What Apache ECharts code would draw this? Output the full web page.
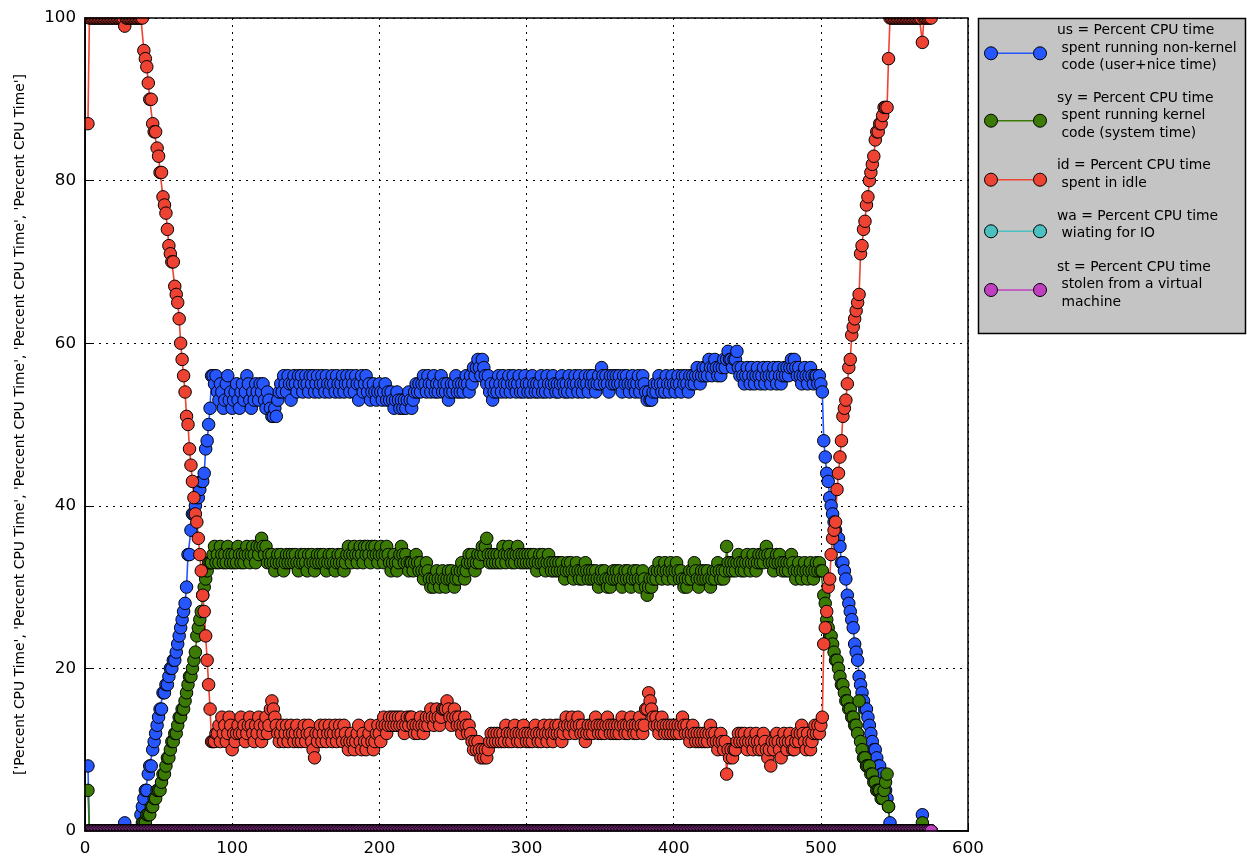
<!DOCTYPE html>
<html><head><meta charset="utf-8">
<script src="https://cdn.jsdelivr.net/npm/echarts@6/dist/echarts.min.js"></script>
<style>html,body{margin:0;padding:0;background:#fff;}#c{width:1247px;height:861px;}</style>
</head><body><div id="c"></div>
<script>
// sample index -> x value starts here (one sample per x unit)
const xStart = 2;

const usValues = [
8,0,0,0,0,0,0,0,0,0,0,0,0,0,0,0,0,0,0,0,
0,0,0,0,0,1,0,0,0,0,0,0,0,0,0,0,2,3,4,5,
5,7,8,8,10,11,12,13,14,15,15,17,17,18,18,19,20,20,21,21,
22,23,24,25,26,27,28,30,34,34,37,39,39,40,41,41,42,43,43,44,
47,48,50,52,56,56,55,56,54,53,55,54,52,53,55,56,53,54,52,53,
54,55,53,52,54,55,53,54,56,55,53,52,54,53,55,54,53,55,54,55,
53,52,54,53,52,51,51,52,51,53,54,55,54,56,55,54,56,55,53,55,
56,55,54,56,55,56,54,55,56,55,54,56,55,56,54,55,56,54,55,56,
55,54,56,55,54,55,56,55,54,56,55,54,55,56,54,55,56,55,54,56,
55,54,56,55,53,55,56,54,55,56,54,55,53,54,55,54,53,54,55,54,
53,54,55,53,54,53,54,53,52,53,54,53,52,53,52,53,52,53,54,53,
52,53,54,55,54,55,54,55,56,55,54,56,55,54,55,56,54,55,54,55,
56,54,55,54,55,53,54,55,54,55,56,54,55,54,55,54,55,56,55,54,
56,55,57,56,57,58,57,56,58,57,56,55,56,54,55,53,54,55,54,56,
55,54,56,55,54,55,56,54,55,56,55,54,55,56,54,55,54,56,55,54,
55,54,56,55,54,55,54,55,56,54,55,54,56,55,54,55,56,55,54,55,
54,55,56,55,54,55,54,56,55,54,55,56,55,54,56,55,54,55,56,55,
54,56,55,56,55,54,55,56,55,57,56,55,56,55,54,56,55,56,55,56,
55,56,55,54,56,55,56,55,54,55,56,55,54,55,56,54,55,56,55,54,
53,54,53,53,54,55,54,55,56,55,54,55,54,56,55,54,55,56,55,54,
55,56,55,54,56,55,56,55,54,56,55,56,55,56,57,56,55,56,57,56,
57,56,58,57,56,57,58,57,56,57,56,57,58,57,58,59,58,58,57,58,
58,59,57,56,57,56,55,56,57,56,55,57,56,55,56,57,56,55,56,57,
55,56,57,56,55,56,57,56,55,57,56,55,56,57,56,57,56,57,58,57,
58,57,56,57,56,55,56,57,56,55,56,57,56,55,56,56,55,56,55,54,
48,46,44,43,41,40,39,38,37,36,36,35,33,33,32,31,29,28,27,26,
25,23,22,21,19,18,17,16,15,15,14,13,12,11,10,10,9,8,8,7,
7,6,5,4,3,1,0,0,0,0,0,0,0,0,0,0,0,0,0,0,
0,0,0,0,0,0,0,2,0,0,0,0,0,0
];

const syValues = [
5,0,0,0,0,0,0,0,0,0,0,0,0,0,0,0,0,0,0,0,
0,0,0,0,0,0,0,0,0,0,0,0,0,0,0,0,0,1,1,1,
2,2,2,3,3,4,4,5,5,5,6,7,7,8,9,9,10,11,11,12,
12,13,14,14,15,15,16,17,18,19,19,20,21,22,24,25,26,27,29,30,
31,32,33,33,33,34,35,33,34,33,35,34,33,34,33,35,34,33,34,33,
34,33,35,34,33,34,33,34,35,34,33,34,35,34,33,35,34,35,36,35,
34,35,33,34,33,34,33,32,33,34,33,34,33,32,33,34,33,34,33,34,
33,34,33,32,33,34,33,34,33,32,34,33,34,33,32,33,34,33,34,33,
34,33,32,33,34,33,34,33,32,33,34,33,34,33,32,33,34,35,34,33,
34,35,34,33,34,35,34,33,35,34,35,34,33,35,34,35,34,33,34,35,
34,33,34,35,34,33,32,33,34,33,32,33,34,35,34,33,34,33,32,33,
33,32,33,34,33,32,33,32,31,32,33,32,31,30,31,30,31,32,31,30,
31,32,31,30,31,32,31,32,31,30,31,32,31,32,33,32,31,32,33,34,
33,34,33,32,33,34,33,34,35,34,35,36,34,33,34,33,34,33,34,33,
34,33,35,34,33,34,35,34,33,34,33,34,35,34,33,34,33,34,33,34,
33,34,33,34,33,32,33,34,33,34,33,32,33,34,33,32,33,32,33,32,
33,32,33,32,31,32,33,32,33,32,31,32,33,32,31,32,31,32,33,32,
31,32,31,32,31,32,31,30,31,32,31,32,31,30,31,30,31,32,31,32,
31,32,31,30,31,32,31,32,31,30,31,32,31,32,31,30,31,32,31,30,
29,30,31,30,31,32,31,32,33,32,31,32,33,32,31,32,33,32,31,32,
33,32,31,32,31,30,31,30,31,32,31,32,33,32,31,30,31,32,31,32,
31,32,31,30,31,32,31,32,33,32,31,32,31,32,35,33,32,33,32,33,
32,33,34,33,32,33,32,33,34,33,32,33,34,33,32,33,34,33,34,33,
34,35,34,33,34,33,32,33,34,33,34,33,32,33,32,33,32,33,34,33,
32,31,32,33,32,31,32,33,32,31,32,33,32,31,32,33,32,33,32,32,
29,28,26,25,24,24,23,22,21,21,20,19,18,18,17,16,16,15,15,14,
14,13,13,12,16,11,10,9,9,8,8,8,7,7,6,6,5,5,5,4,
4,5,6,7,3,0,0,0,0,0,0,0,0,0,0,0,0,0,0,0,
0,0,0,0,0,0,0,1,0,0,0,0,0,0
];

const idValues = [
87,100,100,100,100,100,100,100,100,100,100,100,100,100,100,100,100,100,100,100,
100,100,100,100,100,99,100,100,100,100,100,100,100,100,100,100,100,100,96,95,
94,92,90,90,87,86,86,84,83,81,81,78,77,76,74,72,71,70,70,67,
66,65,63,60,58,56,54,51,50,47,45,43,41,39,38,36,34,32,29,27,
24,21,18,15,11,11,11,12,12,13,11,14,12,13,11,12,14,13,10,12,
11,12,13,12,14,12,13,11,12,13,14,13,12,11,13,12,14,13,11,12,
13,14,12,13,15,16,15,14,13,12,11,12,13,11,12,13,11,12,13,12,
11,12,13,11,12,11,12,13,11,12,13,12,11,10,9,12,11,12,13,11,
12,13,11,12,13,12,11,12,13,11,12,13,12,11,13,12,11,10,11,12,
11,10,11,12,13,11,10,12,11,10,11,12,13,11,10,11,12,13,12,11,
13,14,13,12,13,14,13,14,13,14,13,14,13,14,13,12,13,14,13,14,
14,13,12,13,12,13,14,13,12,13,14,13,14,15,14,13,14,15,14,13,
14,15,15,15,16,15,14,13,14,15,14,13,14,13,12,13,14,13,12,13,
12,11,10,11,10,11,10,9,10,9,10,9,10,11,12,11,12,11,12,11,
12,11,12,11,13,12,11,12,11,12,13,12,11,12,11,12,13,12,11,12,
11,12,11,12,13,12,11,12,11,12,13,12,11,12,13,12,11,12,13,12,
13,12,11,12,13,14,13,12,13,14,13,12,13,14,13,12,13,12,11,12,
13,12,13,12,13,14,13,12,13,12,13,12,13,14,13,12,13,12,13,12,
13,12,13,14,13,12,13,12,13,14,13,12,13,12,13,14,13,12,13,15,
15,17,16,15,14,13,14,13,12,13,14,13,12,13,12,13,12,13,12,13,
12,13,12,13,14,13,12,13,12,11,12,13,12,11,12,11,12,11,12,11,
12,11,12,13,12,11,12,11,10,11,12,11,10,11,7,10,9,10,9,10,
10,11,12,11,12,11,12,11,10,11,12,11,10,11,12,11,10,11,10,12,
11,10,9,10,8,11,10,11,12,11,10,9,11,12,11,10,11,12,11,10,
10,11,12,11,12,13,12,11,10,12,11,10,11,12,13,12,13,12,13,14,
23,25,27,30,31,34,36,37,38,42,44,46,48,51,52,53,55,57,58,61,
62,63,64,65,66,71,72,74,75,77,78,80,81,82,83,85,86,86,87,87,
88,89,89,89,95,100,100,100,100,100,100,100,100,100,100,100,100,100,100,100,
100,100,100,100,100,100,100,97,100,100,100,100,100,100
];

const waValues = [
0,0,0,0,0,0,0,0,0,0,0,0,0,0,0,0,0,0,0,0,
0,0,0,0,0,0,0,0,0,0,0,0,0,0,0,0,0,0,0,0,
0,0,0,0,0,0,0,0,0,0,0,0,0,0,0,0,0,0,0,0,
0,0,0,0,0,0,0,0,0,0,0,0,0,0,0,0,0,0,0,0,
0,0,0,0,0,0,0,0,0,0,0,0,0,0,0,0,0,0,0,0,
0,0,0,0,0,0,0,0,0,0,0,0,0,0,0,0,0,0,0,0,
0,0,0,0,0,0,0,0,0,0,0,0,0,0,0,0,0,0,0,0,
0,0,0,0,0,0,0,0,0,0,0,0,0,0,0,0,0,0,0,0,
0,0,0,0,0,0,0,0,0,0,0,0,0,0,0,0,0,0,0,0,
0,0,0,0,0,0,0,0,0,0,0,0,0,0,0,0,0,0,0,0,
0,0,0,0,0,0,0,0,0,0,0,0,0,0,0,0,0,0,0,0,
0,0,0,0,0,0,0,0,0,0,0,0,0,0,0,0,0,0,0,0,
0,0,0,0,0,0,0,0,0,0,0,0,0,0,0,0,0,0,0,0,
0,0,0,0,0,0,0,0,0,0,0,0,0,0,0,0,0,0,0,0,
0,0,0,0,0,0,0,0,0,0,0,0,0,0,0,0,0,0,0,0,
0,0,0,0,0,0,0,0,0,0,0,0,0,0,0,0,0,0,0,0,
0,0,0,0,0,0,0,0,0,0,0,0,0,0,0,0,0,0,0,0,
0,0,0,0,0,0,0,0,0,0,0,0,0,0,0,0,0,0,0,0,
0,0,0,0,0,0,0,0,0,0,0,0,0,0,0,0,0,0,0,0,
0,0,0,0,0,0,0,0,0,0,0,0,0,0,0,0,0,0,0,0,
0,0,0,0,0,0,0,0,0,0,0,0,0,0,0,0,0,0,0,0,
0,0,0,0,0,0,0,0,0,0,0,0,0,0,0,0,0,0,0,0,
0,0,0,0,0,0,0,0,0,0,0,0,0,0,0,0,0,0,0,0,
0,0,0,0,0,0,0,0,0,0,0,0,0,0,0,0,0,0,0,0,
0,0,0,0,0,0,0,0,0,0,0,0,0,0,0,0,0,0,0,0,
0,0,0,0,0,0,0,0,0,0,0,0,0,0,0,0,0,0,0,0,
0,0,0,0,0,0,0,0,0,0,0,0,0,0,0,0,0,0,0,0,
0,0,0,0,0,0,0,0,0,0,0,0,0,0,0,0,0,0,0,0,
0,0,0,0,0,0,0,0,0,0,0,0,0,0
];

const stValues = [
0,0,0,0,0,0,0,0,0,0,0,0,0,0,0,0,0,0,0,0,
0,0,0,0,0,0,0,0,0,0,0,0,0,0,0,0,0,0,0,0,
0,0,0,0,0,0,0,0,0,0,0,0,0,0,0,0,0,0,0,0,
0,0,0,0,0,0,0,0,0,0,0,0,0,0,0,0,0,0,0,0,
0,0,0,0,0,0,0,0,0,0,0,0,0,0,0,0,0,0,0,0,
0,0,0,0,0,0,0,0,0,0,0,0,0,0,0,0,0,0,0,0,
0,0,0,0,0,0,0,0,0,0,0,0,0,0,0,0,0,0,0,0,
0,0,0,0,0,0,0,0,0,0,0,0,0,0,0,0,0,0,0,0,
0,0,0,0,0,0,0,0,0,0,0,0,0,0,0,0,0,0,0,0,
0,0,0,0,0,0,0,0,0,0,0,0,0,0,0,0,0,0,0,0,
0,0,0,0,0,0,0,0,0,0,0,0,0,0,0,0,0,0,0,0,
0,0,0,0,0,0,0,0,0,0,0,0,0,0,0,0,0,0,0,0,
0,0,0,0,0,0,0,0,0,0,0,0,0,0,0,0,0,0,0,0,
0,0,0,0,0,0,0,0,0,0,0,0,0,0,0,0,0,0,0,0,
0,0,0,0,0,0,0,0,0,0,0,0,0,0,0,0,0,0,0,0,
0,0,0,0,0,0,0,0,0,0,0,0,0,0,0,0,0,0,0,0,
0,0,0,0,0,0,0,0,0,0,0,0,0,0,0,0,0,0,0,0,
0,0,0,0,0,0,0,0,0,0,0,0,0,0,0,0,0,0,0,0,
0,0,0,0,0,0,0,0,0,0,0,0,0,0,0,0,0,0,0,0,
0,0,0,0,0,0,0,0,0,0,0,0,0,0,0,0,0,0,0,0,
0,0,0,0,0,0,0,0,0,0,0,0,0,0,0,0,0,0,0,0,
0,0,0,0,0,0,0,0,0,0,0,0,0,0,0,0,0,0,0,0,
0,0,0,0,0,0,0,0,0,0,0,0,0,0,0,0,0,0,0,0,
0,0,0,0,0,0,0,0,0,0,0,0,0,0,0,0,0,0,0,0,
0,0,0,0,0,0,0,0,0,0,0,0,0,0,0,0,0,0,0,0,
0,0,0,0,0,0,0,0,0,0,0,0,0,0,0,0,0,0,0,0,
0,0,0,0,0,0,0,0,0,0,0,0,0,0,0,0,0,0,0,0,
0,0,0,0,0,0,0,0,0,0,0,0,0,0,0,0,0,0,0,0,
0,0,0,0,0,0,0,0,0,0,0,0,0,0
];

const seriesNames = [
  'us = Percent CPU time\n spent running non-kernel\n code (user+nice time)',
  'sy = Percent CPU time\n spent running kernel\n code (system time)',
  'id = Percent CPU time\n spent in idle',
  'wa = Percent CPU time\n wiating for IO',
  'st = Percent CPU time\n stolen from a virtual\n machine'
];
const seriesColors = ['#2656ff', '#3b7a05', '#ee4232', '#4cbfbf', '#c040c0'];
const yAxisTitle = "['Percent CPU Time', 'Percent CPU Time', 'Percent CPU Time', 'Percent CPU Time', 'Percent CPU Time']";
const xMin = 0, xMax = 600, xStep = 100;
const yMin = 0, yMax = 100, yStep = 20;

const allValues = [usValues, syValues, idValues, waValues, stValues];
function toPairs(vals) { return vals.map((v, i) => [xStart + i, v]); }

const FONT = 'DejaVu Sans';
const chart = echarts.init(document.getElementById('c'), null, {renderer: 'canvas'});

const series = allValues.map((vals, k) => ({
  type: 'line',
  name: seriesNames[k],
  data: toPairs(vals),
  xAxisIndex: 0, yAxisIndex: 0,
  symbol: 'circle',
  symbolSize: 12.5,
  showSymbol: true,
  showAllSymbol: true,
  itemStyle: {color: seriesColors[k], borderColor: '#000', borderWidth: 1},
  lineStyle: {color: seriesColors[k], width: 1.6},
  emphasis: {disabled: true},
  silent: true,
  animation: false,
  clip: false
}));

// legend drawn as graphic (line + two markers + multi-line text)
const legendMarkerY = [53.3, 120.7, 179.7, 231.3, 290];
const legendTextTop = [22, 89.3, 157, 207.6, 258.6];
const legendChildren = [{
  type: 'rect', shape: {x: 978.5, y: 18.5, width: 267, height: 315},
  style: {fill: '#c4c4c4', stroke: '#000', lineWidth: 1.5}
}];
seriesNames.forEach((nm, k) => {
  const cy = legendMarkerY[k];
  legendChildren.push({type: 'line', shape: {x1: 991, y1: cy, x2: 1040, y2: cy},
    style: {stroke: seriesColors[k], lineWidth: 1.6}});
  [991, 1040].forEach(cx => legendChildren.push({type: 'circle', shape: {cx: cx, cy: cy, r: 6.5},
    style: {fill: seriesColors[k], stroke: '#000', lineWidth: 1}}));
  legendChildren.push({type: 'text', x: 1057, y: legendTextTop[k],
    style: {text: nm, fill: '#000', font: '13.9px "' + FONT + '"', lineHeight: 17.5, verticalAlign: 'top', align: 'left'}});
});

const tickStyle = {show: true, inside: true, length: 8, lineStyle: {color: '#000', width: 1}};
const lineStyleAxis = {show: true, lineStyle: {color: '#000', width: 1.5}};
const gridLine = {show: true, lineStyle: {color: '#000', width: 1, type: [2, 5]}};

chart.setOption({
  animation: false,
  backgroundColor: '#fff',
  grid: {left: 85, right: 279, top: 18, bottom: 30, containLabel: false, outerBoundsMode: 'none'},
  xAxis: [
    {type: 'value', position: 'bottom', min: xMin, max: xMax, interval: xStep,
     axisLine: lineStyleAxis, axisTick: tickStyle, splitLine: gridLine,
     axisLabel: {color: '#000', fontSize: 16.7, fontFamily: FONT, margin: 9, showMinLabel: true, showMaxLabel: true}},
    {type: 'value', position: 'top', min: xMin, max: xMax, interval: xStep,
     axisLine: lineStyleAxis, axisTick: tickStyle, splitLine: {show: false}, axisLabel: {show: false}}
  ],
  yAxis: [
    {type: 'value', position: 'left', min: yMin, max: yMax, interval: yStep,
     name: yAxisTitle, nameLocation: 'middle', nameGap: 58,
     nameTextStyle: {color: '#000', fontSize: 13.9, fontFamily: FONT},
     axisLine: lineStyleAxis, axisTick: tickStyle, splitLine: gridLine,
     axisLabel: {color: '#000', fontSize: 16.7, fontFamily: FONT, margin: 9, showMinLabel: true, showMaxLabel: true}},
    {type: 'value', position: 'right', min: yMin, max: yMax, interval: yStep,
     axisLine: lineStyleAxis, axisTick: tickStyle, splitLine: {show: false}, axisLabel: {show: false}}
  ],
  series: series,
  graphic: [
    // clip markers at the plot edges like the original (white masks), then redraw the frame
    {type: 'rect', z: 100, silent: true, shape: {x: 77, y: 0, width: 898, height: 17.2}, style: {fill: '#fff'}},
    {type: 'rect', z: 100, silent: true, shape: {x: 77, y: 831.8, width: 898, height: 8.5}, style: {fill: '#fff'}},
    {type: 'rect', z: 100, silent: true, shape: {x: 77, y: 0, width: 7.2, height: 840}, style: {fill: '#fff'}},
    {type: 'rect', z: 101, silent: true, shape: {x: 85, y: 18, width: 883, height: 813}, style: {fill: null, stroke: '#000', lineWidth: 1.5}},
    {type: 'group', z: 102, silent: true, children: legendChildren}
  ]
});
</script>
</body></html>
